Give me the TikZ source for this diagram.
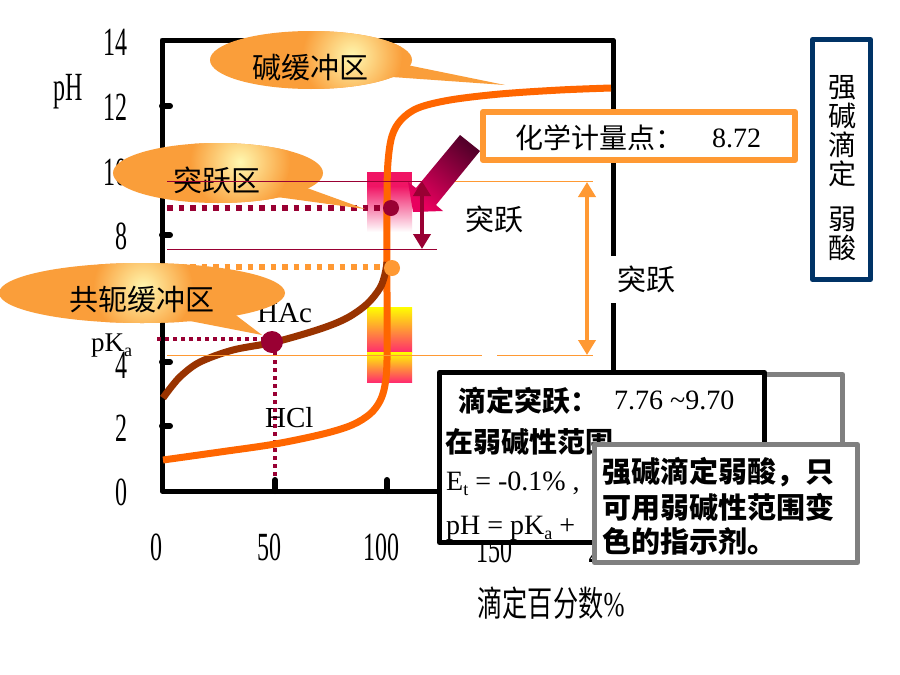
\documentclass[tikz,border=0pt]{standalone}
\usepackage{fontspec}
\setmainfont{Liberation Serif}
\newfontfamily\cjk{Noto Sans CJK SC}
\usetikzlibrary{arrows.meta}
\newcommand\myfs[1]{\fontsize{#1}{#1}\selectfont}
\newcommand\tickl[1]{\scalebox{0.6}[1]{\myfs{40}#1}}
\definecolor{orcurve}{HTML}{FF6600}
\definecolor{brcurve}{HTML}{993300}
\definecolor{dred}{HTML}{990033}
\definecolor{lorange}{HTML}{FF9933}
\definecolor{balc}{HTML}{FA9E3A}
\definecolor{glowc}{HTML}{FFF8B0}
\definecolor{pinkc}{RGB}{240,20,100}
\definecolor{barbot}{RGB}{255,45,110}
\definecolor{navy}{HTML}{003366}
\definecolor{grayb}{HTML}{808080}
\definecolor{arrdark}{HTML}{55002A}
\definecolor{arrbright}{HTML}{E8005E}
\begin{document}
\begin{tikzpicture}[x=1pt,y=-1pt,line join=round,
  mycurve/.style={line width=7pt,line cap=butt},
  dotsq/.style={line width=5.5pt,dash pattern=on 5.5pt off 6pt},
  dotthin/.style={line width=3.5pt,dash pattern=on 3.5pt off 4.5pt},
  thinline/.style={line width=1pt},
  axtick/.style={line width=6pt,line cap=round},
  ticklab/.style={anchor=east,inner sep=0pt},
  cjklab/.style={font=\cjk\myfs{29},inner sep=0pt},
  serlab/.style={font=\myfs{29},inner sep=0pt},
  dblarrow/.style={line width=4pt,{Triangle[width=17pt,length=15pt]}-{Triangle[width=17pt,length=15pt]}},
  boxtxt/.style={anchor=west,inner sep=0pt,font=\cjk\bfseries\myfs{28}},
  fronttxt/.style={anchor=west,inner sep=0pt,font=\cjk\bfseries\myfs{29}},
]
\useasboundingbox (0,0) rectangle (900,675);
\fill[white] (0,0) rectangle (900,675);

% gradient bars
\fill[pinkc] (367,172) rectangle (412,186);
\shade[top color=pinkc,bottom color=white] (367,186) rectangle (412,232);
\shade[top color=yellow,bottom color=barbot] (367,307) rectangle (412,352);
\shade[top color=yellow,bottom color=barbot] (367,352) rectangle (412,382);

% axes frame and ticks
\draw[line width=5pt] (162,40) rectangle (613,491);
\foreach \yy in {106,170,235,299,362,426} \draw[axtick] (162,\yy) -- (170,\yy);
\foreach \xx in {275,387,500} \draw[axtick] (\xx,491) -- (\xx,480);

% tick labels
\node[ticklab] (y14) at (128,42) {\tickl{14}};
\node[ticklab] (y12) at (128,107) {\tickl{12}};
\node[ticklab] (y10) at (128,172) {\tickl{10}};
\node[ticklab] (y8) at (128,236) {\tickl{8}};
\node[ticklab] (y4) at (128,365) {\tickl{4}};
\node[ticklab] (y2) at (128,428) {\tickl{2}};
\node[ticklab] (y0) at (128,492) {\tickl{0}};
\node[inner sep=0pt] (x0) at (156,547) {\tickl{0}};
\node[inner sep=0pt] (x50) at (269,547) {\tickl{50}};
\node[inner sep=0pt] (x100) at (381,547) {\tickl{100}};
\node[inner sep=0pt] (x150) at (494,549) {\tickl{150}};
\node[inner sep=0pt] (x200) at (606,549) {\tickl{200}};
\node[anchor=base,inner sep=0pt] (phlab) at (68,100) {\tickl{pH}};
\node[inner sep=0pt] (xtitle) at (551,603) {\scalebox{0.72}[1]{\cjk\myfs{35}滴定百分数\rmfamily\%}};

% dotted guide lines
\draw[dotsq,dred] (167,208) -- (383,208);
\draw[dotsq,lorange] (167,267) -- (383,267);
\draw[dotthin,dred] (157,339) -- (262,339);
\draw[dotthin,dred] (275,352) -- (275,476);

% curves
\draw[mycurve,orcurve] plot[smooth,tension=0.55] coordinates {(163,460) (220,452) (275,444) (323,434) (352,425) (370,414) (380,401) (385,385) (387,360) (387,300) (387,200) (388,162) (392,136) (401,120) (418,108) (450,100) (500,94) (560,90) (611,88)};
\draw[mycurve,brcurve] plot[smooth,tension=0.55] coordinates {(163,398) (172,386) (182,375) (200,362) (233,350) (275,342) (320,329) (347,318) (367,304) (380,288) (385,274) (387,262)};

% points
\fill[dred] (391,208) circle (8pt);
\fill[lorange] (392,268) circle (8pt);
\fill[dred] (272,342) circle (11pt);

% labels under balloons
\node[serlab,anchor=base west] (hac) at (257,322) {HAc};
\node[serlab,anchor=base west] (hcl) at (265,427) {HCl};
\node[anchor=base west,inner sep=0pt,font=\myfs{27}] (pka) at (91,351) {pK\raisebox{-5pt}{\myfs{18}a}};

% balloon 1
\fill[balc] (407,65) -- (505,85) -- (392,77) -- cycle;
\fill[balc] (311,60) ellipse [x radius=101pt,y radius=29pt];
\begin{scope}
\clip (311,60) ellipse [x radius=101pt,y radius=29pt];
\shade[inner color=glowc,outer color=balc] (352,56) circle (50pt);
\end{scope}
\node[cjklab] (b1) at (310,68) {碱缓冲区};

% balloon 2
\fill[balc] (307,188) -- (365,209) -- (277,197) -- cycle;
\fill[balc] (218,173) ellipse [x radius=105pt,y radius=30pt];
\begin{scope}
\clip (218,173) ellipse [x radius=105pt,y radius=30pt];
\shade[inner color=glowc,outer color=balc] (240,162) circle (50pt);
\end{scope}
\node[cjklab] (b2) at (217,180) {突跃区};

% balloon 3
\fill[balc] (233,313) -- (262,335) -- (190,321) -- cycle;
\fill[balc] (142,293) ellipse [x radius=143pt,y radius=30pt];
\begin{scope}
\clip (142,293) ellipse [x radius=143pt,y radius=30pt];
\shade[inner color=glowc,outer color=balc] (143,288) circle (50pt);
\end{scope}
\node[cjklab] (b3) at (142,300) {共轭缓冲区};

% thin horizontal lines
\draw[thinline,dred] (167,181) -- (432,181);
\draw[thinline,lorange] (432,181) -- (593,181);
\draw[thinline,dred] (167,249) -- (437,249);
\draw[thinline,lorange] (167,355) -- (482,355);
\draw[thinline,lorange] (497,355) -- (593,355);

% big arrow
\shade[top color=arrdark,bottom color=arrbright,shading angle=-40] (460,135) -- (480,151) -- (436,205) -- (443,211) -- (413,212) -- (408,182) -- (416,188) -- cycle;

% double arrows
\draw[dblarrow,dred] (422,181) -- (422,249);
\draw[dblarrow,lorange] (587,182) -- (587,355);

\node[cjklab] (tyl) at (494,219) {突跃};
\node[cjklab,fill=white,inner xsep=10pt,inner ysep=10pt] (tyr) at (646,279) {突跃};

% equivalence point box
\node[draw=lorange,line width=6pt,fill=white,minimum width=312pt,minimum height=48pt,inner sep=0pt] (eqbox) at (639,136) {};
\node[anchor=west,inner sep=0pt,font=\cjk\myfs{28}] (eqtxt) at (515,138) {化学计量点：};
\node[anchor=west,inner sep=0pt,font=\myfs{28}] (eqval) at (712,138) {8.72};

% right title box
\draw[navy,line width=5pt] (812.5,39.5) rectangle (870.5,279.5);
\node[align=center,inner sep=0pt,font=\cjk\fontsize{28}{29}\selectfont] (title) at (842,168) {强\\碱\\滴\\定\\[16pt]弱\\酸};

% boxes at bottom
\draw[grayb,line width=5pt,fill=white] (620,374.5) rectangle (842.5,470);
\draw[line width=5pt,fill=white] (439.5,372.5) rectangle (764.5,542.5);
\node[boxtxt] (jt1) at (458,401) {滴定突跃：};
\node[anchor=west,inner sep=0pt,font=\myfs{28}] (jt1v) at (614,400) {7.76 \textasciitilde9.70};
\node[boxtxt] (jt2) at (445,442) {在弱碱性范围};
\node[anchor=base west,inner sep=0pt,font=\myfs{28}] (jt3) at (446,490) {E\raisebox{-5pt}{\myfs{18}t} = -0.1\% ,};
\node[anchor=base west,inner sep=0pt,font=\myfs{28}] (jt4) at (446,534) {pH = pK\raisebox{-5pt}{\myfs{18}a} +};

\draw[grayb,line width=5pt,fill=white] (594.5,444.5) rectangle (857.5,562.5);
\node[fronttxt] (f1) at (602,472) {强碱滴定弱酸，只};
\node[fronttxt] (f2) at (602,507) {可用弱碱性范围变};
\node[fronttxt] (f3) at (602,541) {色的指示剂。};
\end{tikzpicture}
\end{document}
